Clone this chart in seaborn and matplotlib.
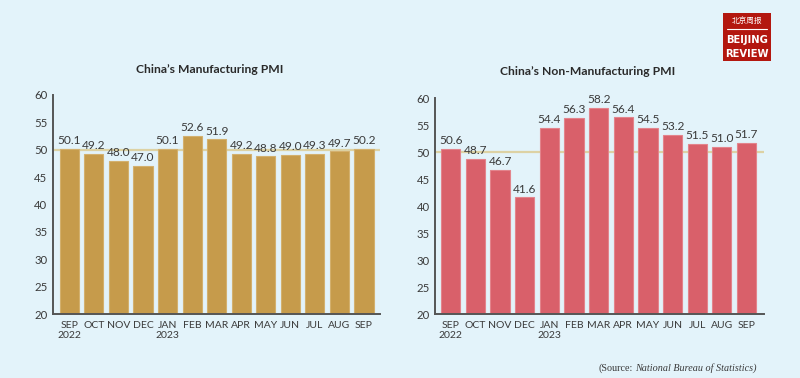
import numpy as np
import pandas as pd
import matplotlib
matplotlib.use('Agg')
import matplotlib.pyplot as plt
import seaborn as sns
from matplotlib.patches import Rectangle

# data
months = ['SEP\n2022', 'OCT', 'NOV', 'DEC', 'JAN\n2023', 'FEB', 'MAR',
          'APR', 'MAY', 'JUN', 'JUL', 'AUG', 'SEP']
manufacturing = [50.1, 49.2, 48.0, 47.0, 50.1, 52.6, 51.9, 49.2, 48.8, 49.0, 49.3, 49.7, 50.2]
non_manufacturing = [50.6, 48.7, 46.7, 41.6, 54.4, 56.3, 58.2, 56.4, 54.5, 53.2, 51.5, 51.0, 51.7]
titles = ["China\u2019s Manufacturing PMI", "China\u2019s Non-Manufacturing PMI"]
yticks = [20, 25, 30, 35, 40, 45, 50, 55, 60]

bg = '#e3f3fa'
text_col = '#3a3a3a'

sns.set_theme(style='white')
plt.rcParams['font.family'] = ['Lato', 'DejaVu Sans']

fig = plt.figure(figsize=(8, 3.78), dpi=100, facecolor=bg)

panels = [
    dict(vals=manufacturing, color='#c69b4b', edge='#d3b06e', rect=[0.066, 0.1693, 0.409, 0.5794],
         xlim=(-0.67, 12.65), title_xy=(0.2625, 0.815)),
    dict(vals=non_manufacturing, color='#d9606a', edge='#e3848c', rect=[0.544, 0.1693, 0.411, 0.5714],
         xlim=(-0.63, 12.71), title_xy=(0.735, 0.812)),
]

for p, title in zip(panels, titles):
    ax = fig.add_axes(p['rect'])
    ax.set_facecolor(bg)
    df = pd.DataFrame({'month': months, 'pmi': p['vals']})
    sns.barplot(data=df, x='month', y='pmi', color=p['color'], saturation=1,
                width=0.78, ax=ax, zorder=2, edgecolor=p['edge'], linewidth=0.8)
    ax.bar_label(ax.containers[0], fmt='%.1f', padding=2, fontsize=8.6, color=text_col)
    ax.axhline(50, color='#ddd2a4', lw=1.6, zorder=1)
    ax.set_ylim(20, 60)
    ax.set_xlim(*p['xlim'])
    ax.set_yticks(yticks)
    ax.set_xlabel('')
    ax.set_ylabel('')
    ax.tick_params(axis='y', length=0, labelsize=8.2, colors=text_col, pad=4)
    ax.tick_params(axis='x', length=0, labelsize=7.5, colors=text_col, pad=5)
    for side in ['top', 'right']:
        ax.spines[side].set_visible(False)
    for side in ['left', 'bottom']:
        ax.spines[side].set_color('#555555')
        ax.spines[side].set_linewidth(1.4)
    fig.text(p['title_xy'][0], p['title_xy'][1], title, ha='center', va='center',
             fontsize=8.7, fontweight='bold', color='#2a2a2a')

# source note
fig.text(0.7905, 0.027, '(Source:', ha='right', va='center', fontsize=7.3,
         family='Liberation Serif', color=text_col)
fig.text(0.794, 0.027, 'National Bureau of Statistics)', ha='left', va='center',
         fontsize=7.3, family='Liberation Serif', style='italic', color=text_col)

# Beijing Review logo
fig.add_artist(Rectangle((0.904, 0.839), 0.06, 0.127, transform=fig.transFigure,
                         facecolor='#b3170f', edgecolor='none'))
fig.text(0.934, 0.943, '\u5317\u4eac\u5468\u62a5', ha='center', va='center', fontsize=5.5,
         color='white', family=['Noto Sans CJK SC', 'DejaVu Sans'])
fig.add_artist(plt.Line2D([0.909, 0.959], [0.922, 0.922], transform=fig.transFigure,
                          color='white', lw=0.8))
fig.text(0.934, 0.893, 'BEIJING', ha='center', va='center', fontsize=7.2, fontweight='bold',
         color='white', family=['Liberation Sans Narrow', 'DejaVu Sans'])
fig.text(0.934, 0.856, 'REVIEW', ha='center', va='center', fontsize=7.2, fontweight='bold',
         color='white', family=['Liberation Sans Narrow', 'DejaVu Sans'])

fig.savefig('out.png', dpi=100, facecolor=bg)
